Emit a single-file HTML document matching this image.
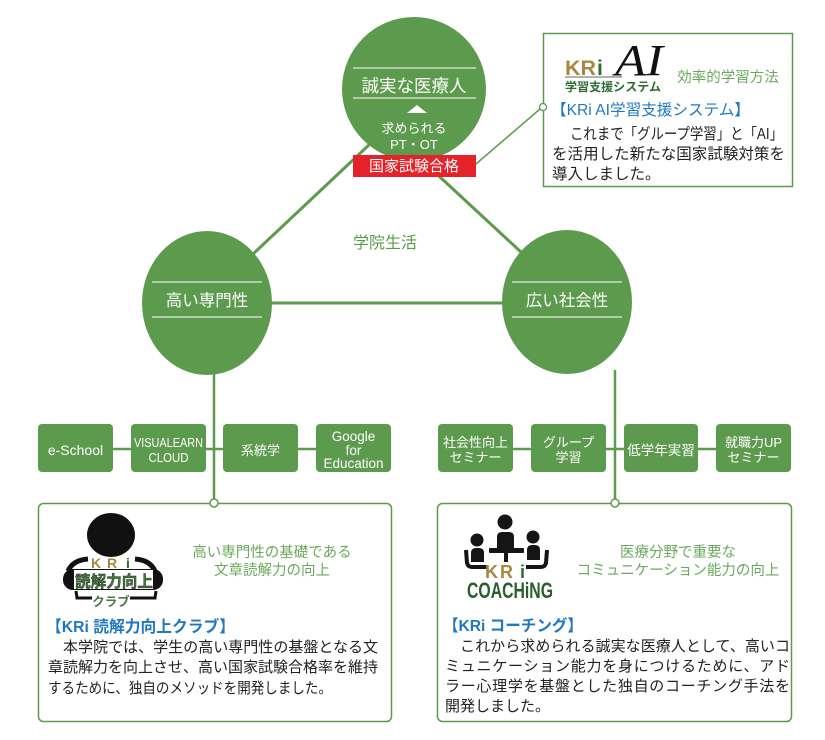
<!DOCTYPE html>
<html><head><meta charset="utf-8">
<style>
html,body{margin:0;padding:0;background:#fff;}
svg{display:block;}
text{font-family:"Liberation Sans","Noto Sans CJK JP",sans-serif;}
</style></head>
<body>
<svg width="825" height="740" viewBox="0 0 825 740" xmlns="http://www.w3.org/2000/svg">
<rect width="825" height="740" fill="#fff"/>
<!-- triangle connecting lines -->
<g stroke="#5c9b4d" stroke-width="3" fill="none">
  <line x1="201" y1="303" x2="388" y2="127"/>
  <line x1="386" y1="127" x2="576" y2="303"/>
  <line x1="207" y1="303" x2="567" y2="303"/>
</g>
<!-- connector to AI box -->
<line x1="462" y1="176" x2="540" y2="109" stroke="#5c9b4d" stroke-width="1.5"/>
<!-- vertical connectors -->
<line x1="214" y1="370" x2="214" y2="499" stroke="#5c9b4d" stroke-width="2.5"/>
<line x1="615" y1="370" x2="615" y2="499" stroke="#5c9b4d" stroke-width="2.5"/>
<!-- horizontal row connectors -->
<line x1="40" y1="449" x2="390" y2="449" stroke="#5c9b4d" stroke-width="2.5"/>
<line x1="440" y1="449" x2="790" y2="449" stroke="#5c9b4d" stroke-width="2.5"/>

<!-- circles -->
<circle cx="414" cy="89" r="72" fill="#5c9b4d"/>
<ellipse cx="207" cy="303" rx="65" ry="72" fill="#5c9b4d"/>
<ellipse cx="567" cy="302" rx="65" ry="72" fill="#5c9b4d"/>

<!-- top circle content -->
<line x1="353" y1="68" x2="476" y2="68" stroke="#fff" stroke-width="1"/>
<line x1="353" y1="98" x2="476" y2="98" stroke="#fff" stroke-width="1"/>
<text x="414" y="92" font-size="17.5" fill="#fff" text-anchor="middle">誠実な医療人</text>
<polygon points="407,113 427,113 417,105" fill="#fff"/>
<text x="414" y="133" font-size="13" fill="#fff" text-anchor="middle">求められる</text>
<text x="414" y="149" font-size="13" fill="#fff" text-anchor="middle">PT・OT</text>
<rect x="353" y="155" width="123" height="22" fill="#e42228"/>
<text x="414" y="171" font-size="15" fill="#fff" text-anchor="middle">国家試験合格</text>

<!-- left circle -->
<line x1="152" y1="282" x2="262" y2="282" stroke="#fff" stroke-width="1"/>
<line x1="152" y1="317" x2="262" y2="317" stroke="#fff" stroke-width="1"/>
<text x="207" y="306" font-size="16.5" fill="#fff" text-anchor="middle">高い専門性</text>
<!-- right circle -->
<line x1="512" y1="282" x2="622" y2="282" stroke="#fff" stroke-width="1"/>
<line x1="512" y1="317" x2="622" y2="317" stroke="#fff" stroke-width="1"/>
<text x="567" y="306" font-size="16.5" fill="#fff" text-anchor="middle">広い社会性</text>

<text x="385" y="248" font-size="16" fill="#5c9b4d" text-anchor="middle">学院生活</text>

<!-- AI box -->
<rect x="543.5" y="33.5" width="249" height="153" fill="#fff" stroke="#5c9b4d" stroke-width="1.5"/>
<circle cx="543" cy="107" r="3.5" fill="#fff" stroke="#5c9b4d" stroke-width="1.3"/>
<text x="565" y="75" font-size="21" font-weight="bold" fill="#a8873f" textLength="31" lengthAdjust="spacingAndGlyphs">KR</text>
<text x="597" y="75" font-size="21" font-weight="bold" fill="#2e6b30">i</text>
<text x="615" y="75" font-size="44" font-style="italic" fill="#111" style="font-family:'Liberation Serif',serif" textLength="48" lengthAdjust="spacingAndGlyphs">AI</text>
<line x1="565" y1="77" x2="622" y2="77" stroke="#666" stroke-width="1"/>
<text x="565" y="91" font-size="12" font-weight="bold" fill="#2e6b30" textLength="96" lengthAdjust="spacingAndGlyphs">学習支援システム</text>
<text x="728" y="82" font-size="14.5" fill="#6aa95b" text-anchor="middle">効率的学習方法</text>
<text x="551" y="115" font-size="15.5" fill="#1f78c1" textLength="199" lengthAdjust="spacingAndGlyphs">【KRi AI学習支援システム】</text>
<text x="570" y="139" font-size="15.5" fill="#222" textLength="213" lengthAdjust="spacingAndGlyphs">これまで「グループ学習」と「AI」</text>
<text x="552" y="159" font-size="15.5" fill="#222" textLength="233" lengthAdjust="spacingAndGlyphs">を活用した新たな国家試験対策を</text>
<text x="552" y="179" font-size="15.5" fill="#222">導入しました。</text>

<!-- row boxes -->
<g fill="#5c9b4d">
  <rect x="38" y="424" width="75" height="48" rx="4"/>
  <rect x="131" y="424" width="75" height="48" rx="4"/>
  <rect x="223" y="424" width="75" height="48" rx="4"/>
  <rect x="316" y="424" width="75" height="48" rx="4"/>
  <rect x="438" y="424" width="75" height="48" rx="4"/>
  <rect x="531" y="424" width="75" height="48" rx="4"/>
  <rect x="624" y="424" width="74" height="48" rx="4"/>
  <rect x="716" y="424" width="75" height="48" rx="4"/>
</g>
<g fill="#fff" text-anchor="middle">
  <text x="75.5" y="455" font-size="14">e-School</text>
  <text x="168.5" y="447" font-size="13" textLength="69" lengthAdjust="spacingAndGlyphs">VISUALEARN</text>
  <text x="168.5" y="462" font-size="13" textLength="40" lengthAdjust="spacingAndGlyphs">CLOUD</text>
  <text x="260.5" y="455" font-size="13">系統学</text>
  <text x="353.5" y="441" font-size="13.5">Google</text>
  <text x="353.5" y="455" font-size="13.5">for</text>
  <text x="353.5" y="468" font-size="13.5">Education</text>
  <text x="475.5" y="447" font-size="13">社会性向上</text>
  <text x="475.5" y="462" font-size="13">セミナー</text>
  <text x="568.5" y="447" font-size="13">グループ</text>
  <text x="568.5" y="462" font-size="13">学習</text>
  <text x="661" y="455" font-size="13.5">低学年実習</text>
  <text x="753.5" y="447" font-size="13">就職力UP</text>
  <text x="753.5" y="462" font-size="13">セミナー</text>
</g>

<!-- bottom boxes -->
<rect x="38.5" y="503.5" width="353" height="218" rx="5" fill="#fff" stroke="#5c9b4d" stroke-width="1.5"/>
<rect x="437.5" y="503.5" width="354" height="218" rx="5" fill="#fff" stroke="#5c9b4d" stroke-width="1.5"/>
<circle cx="214" cy="503" r="4" fill="#fff" stroke="#5c9b4d" stroke-width="1.5"/>
<circle cx="615" cy="503" r="4" fill="#fff" stroke="#5c9b4d" stroke-width="1.5"/>

<!-- club logo -->
<ellipse cx="111" cy="535" rx="24" ry="22" fill="#111"/>
<path d="M68,571 Q73,560 88,559" stroke="#111" stroke-width="5" fill="none"/>
<path d="M155,571 Q150,560 135,559" stroke="#111" stroke-width="5" fill="none"/>
<rect x="63" y="569" width="100" height="21" rx="10" fill="#111"/>
<rect x="74" y="570" width="79" height="19" fill="#fff"/>
<path d="M76,591 L77,598 L92,598" stroke="#111" stroke-width="3" fill="none"/>
<path d="M156,591 L155,598 L130,598" stroke="#111" stroke-width="3" fill="none"/>
<text x="91" y="568" font-size="14" font-weight="bold" fill="#a8873f">K</text>
<text x="107" y="568" font-size="14" font-weight="bold" fill="#a8873f">R</text>
<text x="126" y="568" font-size="14" font-weight="bold" fill="#2e6b30">i</text>
<text x="114" y="587" font-size="16" font-weight="bold" fill="#3f7d3b" stroke="#1a1a1a" stroke-width="0.4" text-anchor="middle" textLength="78" lengthAdjust="spacingAndGlyphs">読解力向上</text>
<text x="111" y="606" font-size="12.5" font-weight="bold" fill="#3f7d3b" text-anchor="middle">クラブ</text>

<text x="272" y="557" font-size="14.5" fill="#6aa95b" text-anchor="middle">高い専門性の基礎である</text>
<text x="272" y="575" font-size="14.5" fill="#6aa95b" text-anchor="middle">文章読解力の向上</text>
<text x="46" y="632" font-size="16" font-weight="bold" fill="#1f78c1" textLength="189" lengthAdjust="spacingAndGlyphs">【KRi 読解力向上クラブ】</text>
<text x="48" y="652" font-size="15" fill="#222" textLength="330" lengthAdjust="spacing">　本学院では、学生の高い専門性の基盤となる文</text>
<text x="48" y="672" font-size="15" fill="#222" textLength="330" lengthAdjust="spacing">章読解力を向上させ、高い国家試験合格率を維持</text>
<text x="48" y="693" font-size="15" fill="#222" textLength="284" lengthAdjust="spacingAndGlyphs">するために、独自のメソッドを開発しました。</text>

<!-- coaching logo -->
<g fill="#151515">
  <circle cx="505" cy="522" r="7.5"/>
  <path d="M497,548 L497,537 Q497,532 502,532 L509,532 Q514,532 514,537 L514,548 Z"/>
  <rect x="489" y="548" width="35" height="5" rx="1"/>
  <rect x="504" y="553" width="4" height="9"/>
  <circle cx="477" cy="540" r="6.5"/>
  <path d="M471,562 L471,553 Q471,548 476,548 L479,548 Q484,548 484,553 L484,562 Z"/>
  <circle cx="533" cy="537" r="6.5"/>
  <path d="M527,560 L527,550 Q527,545 532,545 L535,545 Q540,545 540,550 L540,560 Z"/>
</g>
<path d="M466,550 L467,563 Q468,567 472,567 L487,567" stroke="#151515" stroke-width="4" fill="none"/>
<path d="M547,550 L546,563 Q545,567 541,567 L526,567" stroke="#151515" stroke-width="4" fill="none"/>
<text x="485" y="578" font-size="18" font-weight="bold" fill="#a8873f">K</text>
<text x="500" y="578" font-size="18" font-weight="bold" fill="#a8873f">R</text>
<text x="520" y="578" font-size="18" font-weight="bold" fill="#2e6b30">i</text>
<text x="467" y="598" font-size="22" font-weight="bold" fill="#2a5e2e" textLength="86" lengthAdjust="spacingAndGlyphs">COACHiNG</text>

<text x="678" y="557" font-size="14.5" fill="#6aa95b" text-anchor="middle">医療分野で重要な</text>
<text x="678" y="575" font-size="14.5" fill="#6aa95b" text-anchor="middle">コミュニケーション能力の向上</text>
<text x="443" y="631" font-size="16" font-weight="bold" fill="#1f78c1" textLength="140" lengthAdjust="spacingAndGlyphs">【KRi コーチング】</text>
<text x="445" y="651" font-size="15" fill="#222" textLength="345" lengthAdjust="spacing">　これから求められる誠実な医療人として、高いコ</text>
<text x="445" y="671" font-size="15" fill="#222" textLength="345" lengthAdjust="spacing">ミュニケーション能力を身につけるために、アド</text>
<text x="445" y="691" font-size="15" fill="#222" textLength="345" lengthAdjust="spacing">ラー心理学を基盤とした独自のコーチング手法を</text>
<text x="445" y="711" font-size="15" fill="#222">開発しました。</text>
</svg>
</body></html>
